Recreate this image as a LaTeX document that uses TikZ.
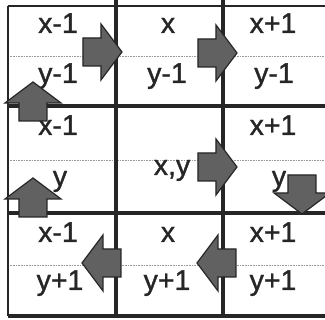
\documentclass[tikz,border=0pt]{standalone}
\usepackage{fontspec}
\setmainfont{Liberation Sans}
\newfontfamily\scanfont[FakeBold=1.2]{Liberation Sans}
\usepackage{tikz}
\usetikzlibrary{calc}

% block arrow: #1 = tip, #2 = direction (0 right, 90 up, 180 left, -90 down)
\newcommand{\blockarrow}[2]{%
  \draw[blockarr, shift={(#1)}, rotate=#2]
    (0,0) -- (-21,28) -- (-21,14) -- (-39,14) -- (-39,-14) -- (-21,-14) -- (-21,-28) -- cycle;}

\begin{document}
\begin{tikzpicture}[
  x=1pt, y=-1pt,
  gridline/.style={draw=black!85, line width=3.5pt},
  frameline/.style={draw=black!85, line width=1.5pt},
  midline/.style={draw=black!40, densely dotted, line width=0.6pt},
  lbl/.style={anchor=base, inner sep=0pt, text=black!85,
              font=\scanfont\fontsize{28.5}{28.5}\selectfont},
  blockarr/.style={draw=black!85, line width=1.2pt, fill=black!62, line join=miter}
]
\useasboundingbox (0,0) rectangle (325,320);

%% ─── Grid ────────────────────────────────────────────────────────────────────
\draw[midline] (8,56)  -- (325,56);
\draw[midline] (8,160) -- (325,160);
\draw[midline] (8,265) -- (325,265);

\draw[frameline] (8,6) -- (325,6);
\draw[frameline] (8,6) -- (8,316);
\draw[gridline]  (116,0) -- (116,318);
\draw[gridline]  (223,0) -- (223,318);
\draw[gridline]  (8,106) -- (325,106);
\draw[gridline]  (8,213) -- (325,213);
\draw[gridline]  (8,316) -- (325,316);

%% ─── Cell labels ─────────────────────────────────────────────────────────────
\node[lbl] (x11) at (58,33)  {x-1};
\node[lbl] (y11) at (58,83)  {y-1};
\node[lbl] (x12) at (168,33) {x};
\node[lbl] (y12) at (167,83) {y-1};
\node[lbl] (x13) at (273,33) {x+1};
\node[lbl] (y13) at (274,83) {y-1};

\node[lbl] (x21) at (58,135)  {x-1};
\node[lbl] (y21) at (60,186)  {y};
\node[lbl] (xy)  at (172,175) {x,y};
\node[lbl] (x23) at (273,135) {x+1};
\node[lbl] (y23) at (279,186) {y};

\node[lbl] (x31) at (58,242)  {x-1};
\node[lbl] (y31) at (60,290)  {y+1};
\node[lbl] (x32) at (168,242) {x};
\node[lbl] (y32) at (167,290) {y+1};
\node[lbl] (x33) at (273,242) {x+1};
\node[lbl] (y33) at (273,290) {y+1};

%% ─── Block arrows ────────────────────────────────────────────────────────────
\blockarrow{122,52}{0}
\blockarrow{237,53}{0}
\blockarrow{33,82}{90}
\blockarrow{33,178}{90}
\blockarrow{237,167}{0}
\blockarrow{302,214}{-90}
\blockarrow{82,263}{180}
\blockarrow{197,263}{180}

\end{tikzpicture}
\end{document}
